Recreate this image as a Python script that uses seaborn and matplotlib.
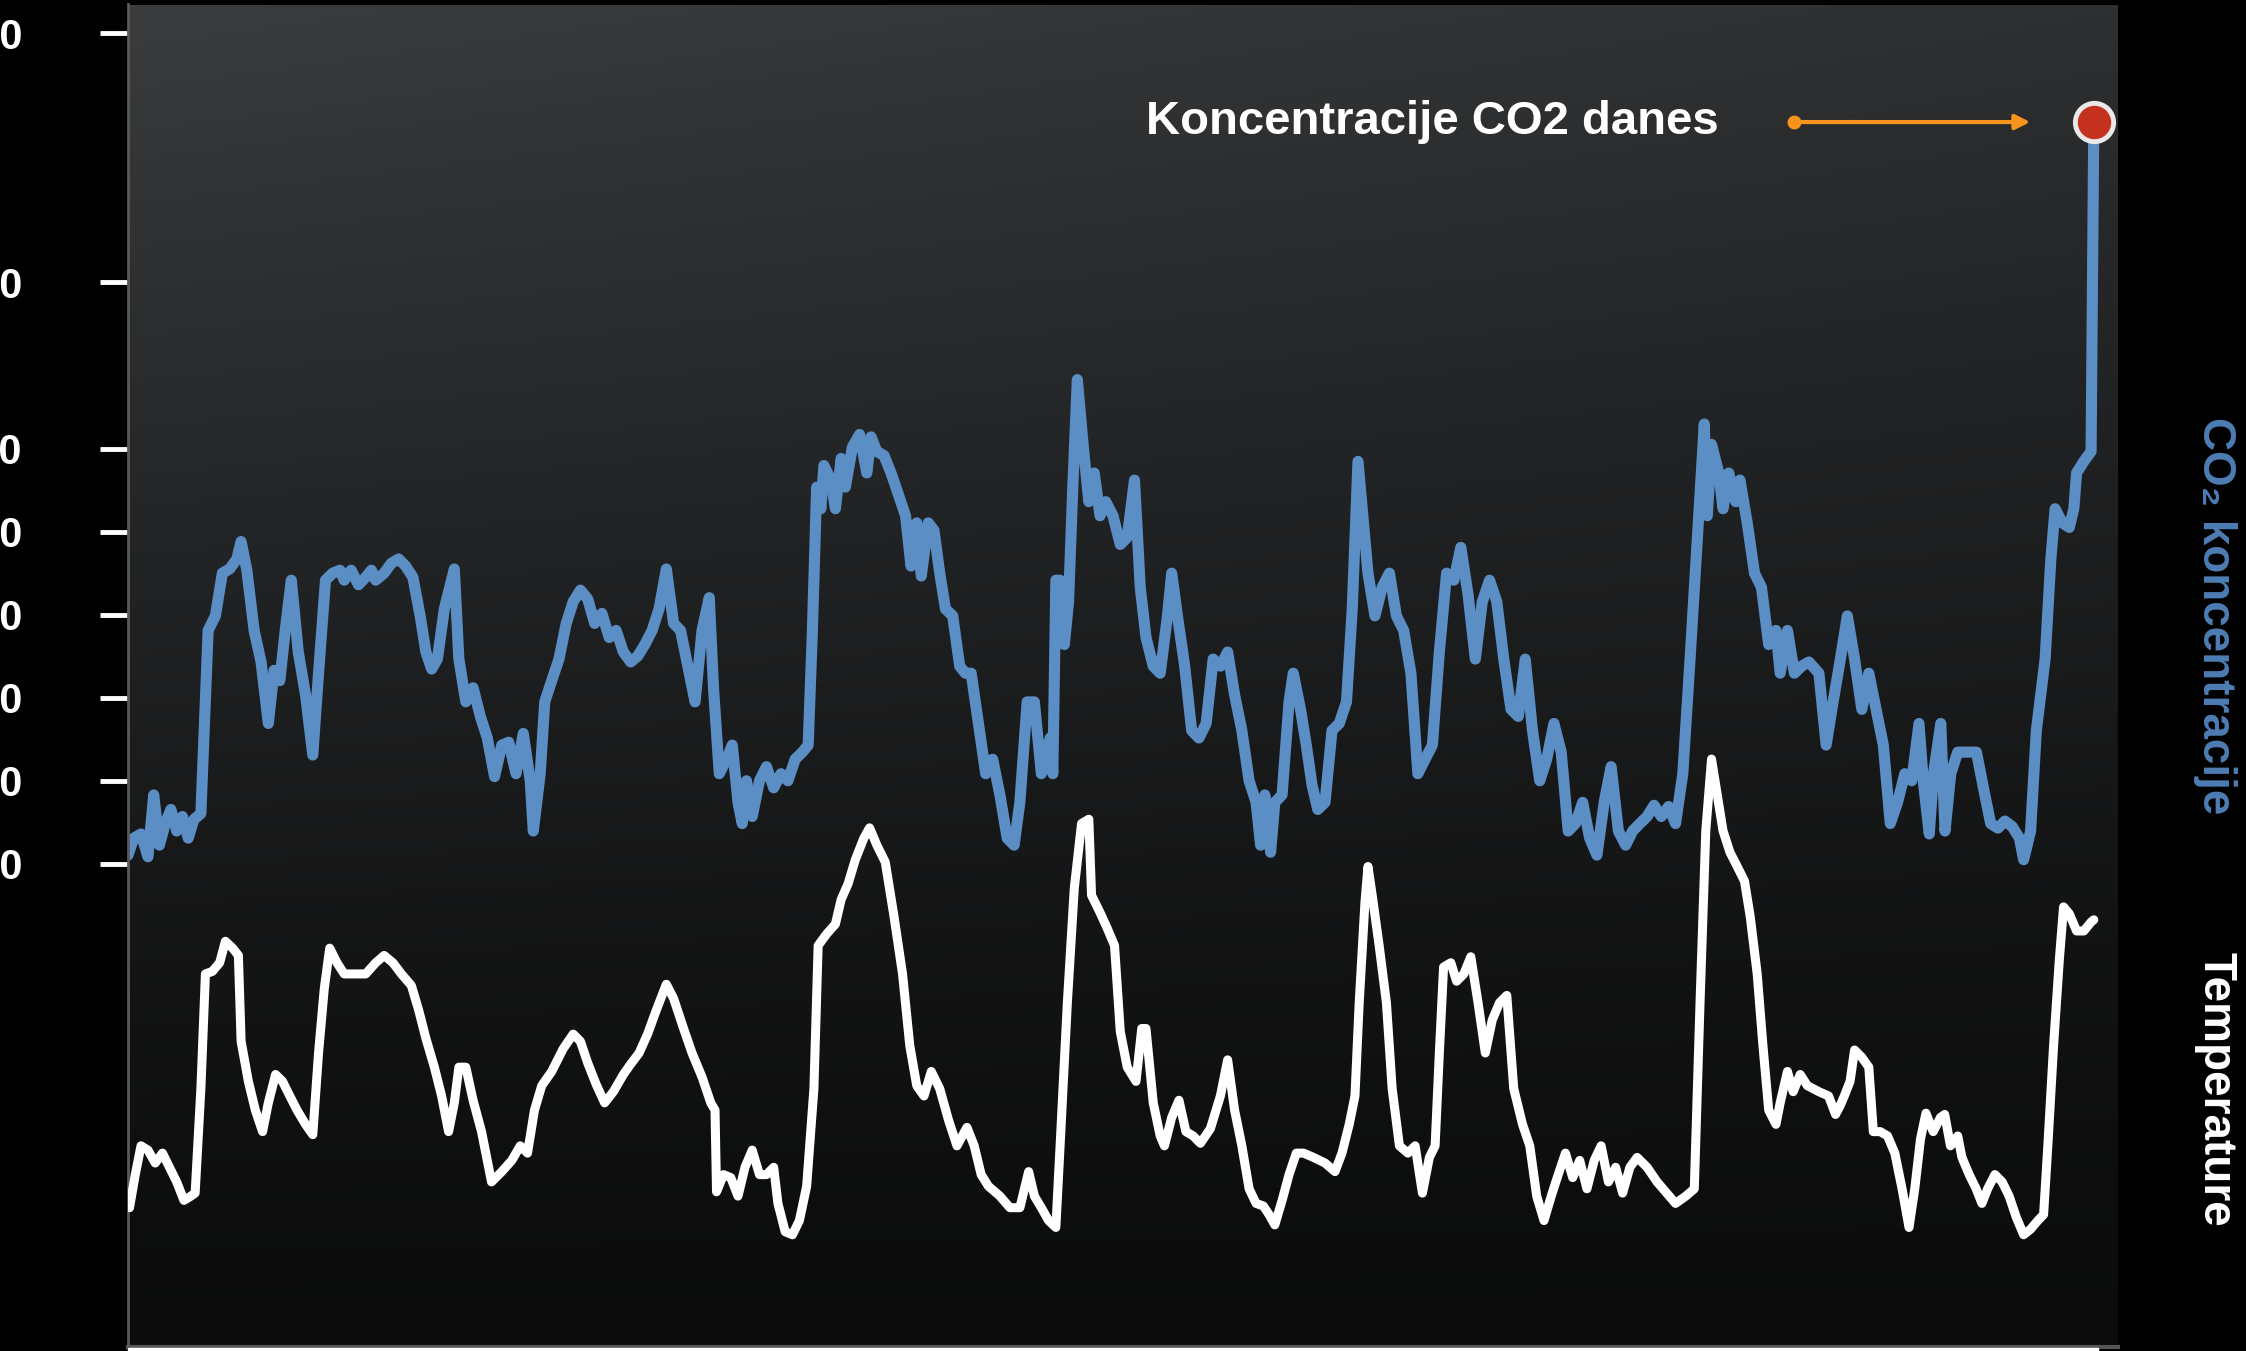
import numpy as np
import pandas as pd
import matplotlib.pyplot as plt
from matplotlib.patches import Rectangle
import seaborn as sns

# CO2 concentration (ppm) over the last 650 000 years (x in kyr, 0 = today)
co2_kyr = [-650.0, -648.1, -645.7, -643.4, -641.5, -639.6, -637.7, -635.8, -633.9, -632.0,
           -630.1, -628.2, -625.9, -623.5, -621.1, -618.8, -616.4, -614.0, -612.6, -610.7,
           -608.3, -606.0, -603.6, -601.7, -599.8, -597.9, -596.0, -593.7, -591.3, -588.9,
           -587.0, -584.7, -582.3, -579.9, -578.5, -576.2, -573.8, -571.4, -569.5, -568.1,
           -565.3, -562.9, -560.5, -558.2, -555.8, -553.4, -551.5, -549.6, -547.7, -545.4,
           -542.1, -540.6, -538.3, -535.9, -533.5, -531.2, -528.8, -526.4, -524.1, -521.7,
           -519.3, -517.0, -516.0, -513.7, -512.2, -509.9, -507.5, -505.1, -502.8, -500.4,
           -498.0, -495.7, -493.3, -490.9, -488.6, -486.2, -483.8, -481.5, -479.1, -476.7,
           -474.4, -472.0, -469.6, -467.3, -464.9, -462.5, -460.2, -457.8, -456.4, -454.5,
           -452.1, -450.2, -448.3, -446.9, -445.5, -443.6, -441.2, -438.9, -436.5, -434.1,
           -431.8, -429.4, -427.0, -425.1, -423.7, -422.3, -420.9, -419.9, -417.6, -416.1,
           -414.2, -412.8, -410.5, -408.1, -405.7, -404.3, -402.4, -400.0, -397.7, -395.3,
           -392.9, -391.1, -389.2, -387.7, -385.4, -383.5, -381.6, -379.7, -377.3, -375.0,
           -373.1, -371.2, -368.8, -366.4, -364.1, -361.7, -359.3, -357.0, -355.1, -352.7,
           -350.3, -348.0, -345.1, -344.2, -343.2, -341.8, -340.4, -339.0, -337.6, -336.1,
           -334.2, -332.3, -330.5, -328.6, -326.7, -324.3, -321.9, -319.6, -317.2, -315.3,
           -313.4, -311.0, -308.7, -306.3, -304.9, -303.0, -300.6, -298.3, -295.9, -293.5,
           -291.2, -288.8, -286.4, -284.1, -281.7, -279.3, -277.0, -275.5, -274.1, -272.2,
           -270.8, -268.4, -266.1, -264.7, -262.3, -260.4, -258.5, -256.6, -254.2, -251.9,
           -249.5, -247.1, -245.2, -243.3, -241.5, -240.0, -237.7, -235.3, -232.9, -230.6,
           -228.2, -225.8, -223.5, -221.1, -218.7, -216.4, -214.0, -211.6, -209.3, -206.9,
           -204.5, -202.2, -199.8, -197.4, -195.1, -192.7, -190.3, -188.0, -185.6, -183.2,
           -180.9, -178.5, -176.1, -173.8, -171.4, -169.0, -166.7, -164.3, -161.9, -159.6,
           -157.2, -154.8, -152.5, -150.1, -147.7, -145.4, -143.0, -140.6, -138.3, -135.9,
           -133.5, -131.2, -128.8, -127.8, -126.4, -124.0, -122.6, -120.7, -118.4, -117.0,
           -114.6, -112.2, -109.9, -107.5, -105.1, -103.7, -101.3, -99.0, -96.6, -94.2,
           -90.9, -88.5, -86.2, -83.8, -81.5, -79.1, -76.7, -74.4, -72.0, -69.6,
           -67.3, -64.9, -62.5, -60.2, -57.8, -56.4, -54.4, -53.0, -50.6, -49.2,
           -47.3, -45.0, -42.6, -38.8, -36.5, -34.1, -31.7, -29.4, -27.0, -24.6,
           -23.2, -20.9, -19.0, -16.1, -14.2, -12.8, -10.4, -8.1, -6.6, -5.7,
           -3.3, -0.9, 0.0]
co2_ppm = [182.1, 186.2, 187.2, 181.7, 196.6, 184.5, 189.7, 193.1, 187.9, 191.4,
           186.2, 190.7, 192.1, 236.2, 239.7, 250.0, 251.0, 253.4, 257.6, 250.7,
           236.2, 228.6, 213.8, 226.6, 224.1, 236.9, 248.3, 231.0, 220.7, 206.2,
           225.9, 248.3, 250.0, 250.7, 248.3, 250.7, 247.2, 249.0, 250.7, 248.3,
           250.0, 252.4, 253.4, 251.7, 249.0, 239.7, 231.0, 226.9, 229.3, 241.4,
           251.0, 229.3, 219.0, 222.4, 215.5, 210.3, 201.0, 208.6, 209.3, 201.7,
           211.4, 200.0, 187.9, 201.7, 219.0, 224.1, 229.3, 237.9, 243.1, 245.9,
           243.8, 237.9, 240.3, 234.5, 236.2, 231.0, 228.6, 230.0, 232.8, 236.2,
           241.4, 251.0, 237.9, 236.2, 227.6, 219.0, 236.2, 244.1, 222.4, 201.7,
           205.2, 208.6, 194.8, 189.7, 200.0, 191.4, 200.0, 203.4, 198.3, 201.7,
           200.0, 205.2, 206.9, 208.6, 236.2, 270.7, 265.5, 275.9, 272.4, 265.5,
           277.6, 270.7, 280.3, 283.4, 274.1, 282.8, 279.3, 278.3, 274.1, 269.0,
           263.8, 251.7, 262.1, 249.3, 262.1, 260.3, 250.0, 241.4, 239.7, 227.6,
           225.9, 225.9, 213.8, 201.7, 205.2, 196.6, 186.2, 184.5, 194.8, 219.0,
           219.0, 201.7, 210.3, 201.7, 248.3, 248.3, 232.8, 243.1, 270.7, 296.6,
           281.0, 267.2, 274.1, 263.8, 267.2, 263.8, 256.9, 258.6, 272.4, 246.6,
           234.5, 227.6, 225.9, 239.7, 250.0, 239.7, 227.6, 212.1, 210.3, 213.8,
           229.3, 227.6, 231.0, 220.7, 212.1, 200.0, 194.8, 184.5, 196.6, 182.8,
           194.8, 196.6, 219.0, 225.9, 217.2, 208.6, 199.0, 193.1, 194.8, 212.1,
           213.8, 219.0, 241.4, 276.9, 262.1, 250.0, 239.7, 246.6, 250.0, 239.7,
           236.2, 225.9, 201.7, 205.2, 208.6, 231.0, 250.0, 248.3, 256.2, 244.8,
           229.3, 243.1, 248.3, 243.1, 229.3, 217.2, 215.5, 229.3, 212.1, 200.0,
           205.2, 213.8, 206.9, 187.9, 189.7, 194.8, 186.2, 182.1, 194.8, 203.4,
           187.9, 184.5, 187.9, 189.7, 191.4, 194.1, 191.4, 193.8, 189.7, 201.7,
           229.3, 256.9, 285.9, 263.8, 281.0, 274.1, 265.5, 274.1, 267.2, 272.4,
           262.1, 250.0, 246.6, 232.8, 236.2, 225.9, 236.2, 225.9, 227.6, 228.6,
           225.9, 208.6, 219.0, 229.3, 239.7, 229.3, 217.2, 225.9, 217.2, 208.6,
           189.7, 194.8, 201.7, 200.0, 213.8, 200.0, 187.2, 201.7, 213.8, 187.9,
           201.7, 206.9, 206.9, 206.9, 198.3, 189.7, 188.6, 190.3, 189.0, 186.2,
           181.0, 187.9, 212.1, 229.3, 253.4, 265.5, 262.1, 261.0, 265.5, 274.1,
           276.9, 279.3, 358.6]

# temperature anomaly (deg C) on the same time axis
temp_kyr = [-649.5, -647.6, -645.7, -643.4, -641.0, -638.6, -636.3, -633.9, -631.5, -629.2,
            -627.8, -625.9, -624.4, -622.1, -619.7, -617.8, -615.4, -613.5, -612.6, -610.2,
            -607.9, -605.5, -603.6, -601.2, -598.9, -596.5, -594.1, -591.3, -588.9, -587.0,
            -585.1, -583.3, -580.9, -578.5, -574.7, -571.4, -568.1, -565.3, -562.4, -559.6,
            -556.3, -553.9, -551.5, -548.7, -546.3, -544.0, -542.1, -540.6, -538.3, -535.9,
            -533.1, -529.8, -526.4, -523.1, -520.3, -517.9, -515.6, -513.2, -509.9, -506.1,
            -502.8, -500.4, -498.0, -495.2, -492.4, -489.5, -486.2, -483.8, -481.0, -478.2,
            -475.3, -472.0, -469.6, -466.3, -463.5, -460.2, -457.3, -455.9, -455.4, -453.1,
            -450.7, -448.3, -446.0, -443.6, -441.2, -438.9, -436.5, -435.1, -432.7, -430.3,
            -428.0, -425.6, -423.2, -421.8, -419.0, -416.1, -414.2, -411.9, -409.5, -406.7,
            -404.8, -402.4, -399.6, -396.7, -393.9, -391.5, -389.2, -386.8, -384.4, -381.6,
            -378.7, -375.9, -372.6, -370.2, -367.9, -365.5, -361.7, -358.4, -355.1, -352.2,
            -350.3, -348.0, -345.6, -343.2, -341.8, -339.4, -337.1, -334.7, -332.3, -331.4,
            -328.6, -326.2, -323.8, -321.9, -319.6, -316.7, -314.8, -313.4, -311.0, -308.7,
            -307.3, -304.9, -302.5, -300.2, -297.8, -295.4, -292.1, -288.8, -286.4, -284.1,
            -281.7, -279.3, -277.0, -274.6, -272.7, -270.8, -268.4, -266.1, -263.7, -261.3,
            -258.0, -254.2, -250.9, -248.6, -246.2, -244.3, -242.9, -241.0, -240.0, -238.6,
            -236.3, -233.9, -232.0, -229.6, -226.8, -224.4, -222.0, -219.7, -217.8, -216.4,
            -215.0, -212.6, -210.7, -208.3, -206.0, -203.6, -201.2, -198.9, -196.5, -194.1,
            -191.8, -188.9, -186.5, -184.2, -181.8, -179.4, -177.1, -174.7, -172.3, -170.0,
            -167.6, -165.2, -162.9, -160.5, -158.1, -155.8, -153.4, -151.0, -147.7, -144.4,
            -141.6, -138.3, -134.9, -132.1, -130.2, -128.3, -126.4, -124.5, -122.6, -120.3,
            -117.9, -115.5, -113.6, -111.3, -109.4, -107.5, -105.1, -103.7, -101.3, -99.4,
            -97.1, -94.7, -90.9, -87.7, -85.4, -83.9, -82.5, -80.6, -79.1, -76.7,
            -74.4, -72.9, -70.6, -68.2, -65.8, -63.4, -61.1, -59.2, -57.3, -55.5,
            -53.1, -50.7, -49.3, -47.4, -45.0, -43.6, -41.2, -38.9, -37.0, -35.1,
            -32.7, -30.3, -28.0, -25.6, -23.2, -20.9, -18.5, -16.6, -15.2, -13.3,
            -11.4, -10.0, -8.1, -5.7, -3.3, -1.0, 0.0]
temp_anom = [-6.77, -6.00, -5.33, -5.43, -5.73, -5.50, -5.83, -6.17, -6.60, -6.50,
             -6.43, -4.00, -1.33, -1.27, -1.07, -0.57, -0.73, -0.90, -2.90, -3.83,
             -4.50, -5.00, -4.33, -3.67, -3.83, -4.17, -4.50, -4.83, -5.07, -3.17,
             -1.67, -0.73, -1.07, -1.33, -1.33, -1.33, -1.07, -0.90, -1.07, -1.33,
             -1.60, -2.17, -2.83, -3.50, -4.17, -5.00, -4.33, -3.50, -3.50, -4.27,
             -5.00, -6.17, -5.93, -5.67, -5.33, -5.50, -4.50, -3.93, -3.60, -3.07,
             -2.73, -2.90, -3.40, -3.90, -4.33, -4.07, -3.67, -3.43, -3.17, -2.73,
             -2.17, -1.57, -1.90, -2.60, -3.17, -3.73, -4.33, -4.50, -6.40, -6.00,
             -6.07, -6.50, -5.83, -5.43, -6.00, -6.00, -5.83, -6.67, -7.33, -7.40,
             -7.07, -6.27, -4.00, -0.67, -0.40, -0.17, 0.40, 0.77, 1.33, 1.83,
             2.07, 1.67, 1.27, 0.00, -1.33, -3.00, -3.93, -4.17, -3.60, -4.00,
             -4.73, -5.33, -4.90, -5.33, -6.00, -6.27, -6.50, -6.77, -6.77, -5.93,
             -6.50, -6.77, -7.07, -7.23, -5.33, -2.00, 0.67, 2.17, 2.27, 0.50,
             0.10, -0.27, -0.67, -2.67, -3.50, -3.83, -2.60, -2.60, -4.33, -5.10,
             -5.33, -4.67, -4.27, -5.00, -5.10, -5.27, -4.93, -4.17, -3.33, -4.50,
             -5.33, -6.33, -6.67, -6.73, -6.93, -7.17, -6.60, -6.00, -5.50, -5.50,
             -5.60, -5.73, -5.93, -5.50, -4.83, -4.17, -2.00, 0.33, 1.17, 0.50,
             -0.67, -2.00, -4.00, -5.33, -5.50, -5.33, -6.43, -5.60, -5.33, -3.17,
             -1.17, -1.07, -1.50, -1.33, -0.93, -2.00, -3.17, -2.40, -2.00, -1.83,
             -4.00, -4.83, -5.33, -6.50, -7.07, -6.50, -6.00, -5.50, -6.07, -5.67,
             -6.33, -5.67, -5.33, -6.17, -5.83, -6.43, -5.83, -5.60, -5.83, -6.17,
             -6.40, -6.67, -6.50, -6.33, -2.00, 2.00, 3.67, 2.83, 2.00, 1.50,
             1.17, 0.83, 0.00, -1.33, -3.00, -4.50, -4.83, -4.33, -3.60, -4.07,
             -3.67, -3.93, -4.07, -4.17, -4.60, -4.40, -4.17, -3.83, -3.10, -3.27,
             -3.50, -5.00, -5.00, -5.10, -5.50, -6.33, -7.23, -6.33, -5.17, -4.57,
             -5.00, -4.67, -4.60, -5.33, -5.10, -5.60, -6.00, -6.33, -6.67, -6.33,
             -6.00, -6.17, -6.50, -7.00, -7.40, -7.27, -7.07, -6.93, -5.33, -3.00,
             -1.00, 0.23, 0.07, -0.33, -0.33, -0.13, -0.07]

co2_ticks = [180, 200, 220, 240, 260, 280, 320, 380]
co2_tick_labels = ['180', '200', '220', '240', '260', '280', '320', '380']
time_ticks = [-550, -450, -350, -250, -150, -50]

co2 = pd.DataFrame({'kyr': co2_kyr, 'ppm': co2_ppm})
temp = pd.DataFrame({'kyr': temp_kyr, 'temp': temp_anom})
today_kyr, today_ppm = co2_kyr[-1], co2_ppm[-1]

sns.set_style('dark')
plt.rcParams['font.family'] = ['Liberation Sans', 'DejaVu Sans']
plt.rcParams['font.weight'] = 'bold'

W, H = 2246, 1351
fig = plt.figure(figsize=(W / 100, H / 100), dpi=100, facecolor='black')
rect = [128 / W, 4.5 / H, 1990 / W, 1342 / H]

# dark gradient backdrop
bg = fig.add_axes(rect, zorder=0)
u, v = np.meshgrid(np.linspace(0, 1, 300), np.linspace(0, 1, 300))
val = 0.045 + (0.19 - 0.05 * u) * (1 - v) ** 1.3
grad = np.dstack([val * 0.97, val * 1.0, val * 1.03])
bg.imshow(np.clip(grad, 0, 1), aspect='auto', extent=[0, 1, 0, 1], interpolation='bilinear')
bg.set_axis_off()

ax = fig.add_axes(rect, zorder=1)
ax.set_facecolor('none')
sns.lineplot(data=co2, x='kyr', y='ppm', ax=ax, color='#5b8ec4', lw=8,
             estimator=None, sort=False, solid_joinstyle='round', solid_capstyle='round')
ax.scatter([today_kyr], [today_ppm], s=760, color='#c4321f', edgecolor='#e9e9e9',
           linewidth=3.5, zorder=6)

ax.set_xlim(-650, 8)
ax.set_ylim(63.8, 386.9)
ax.set_yticks(co2_ticks)
ax.set_yticklabels(co2_tick_labels, fontweight='bold')
ax.set_xticks(time_ticks)
ax.set_xticklabels([])
ax.tick_params(axis='y', length=20, width=3.5, color='white', pad=56,
               labelsize=30, labelcolor='white', direction='out')
ax.tick_params(axis='x', length=5, width=2, color='#6a6a6a', direction='in')
ax.set_xlabel('')
ax.set_ylabel('')
ax.grid(False)
for side in ['top', 'right']:
    ax.spines[side].set_visible(False)
ax.spines['left'].set_color('#5a5a5a')
ax.spines['left'].set_linewidth(2)
ax.spines['bottom'].set_color('#555555')
ax.spines['bottom'].set_linewidth(3)

# annotation pointing at today's CO2 level
ax.annotate('', xy=(today_kyr - 21, today_ppm), xytext=(today_kyr - 99, today_ppm),
            arrowprops=dict(arrowstyle='-|>', color='#f7941d', lw=3, mutation_scale=22,
                            shrinkA=0, shrinkB=0), zorder=5)
ax.plot([today_kyr - 99], [today_ppm], marker='o', ms=9, color='#f7941d', zorder=5)
ax.text(today_kyr - 124, today_ppm, 'Koncentracije CO2 danes', color='white',
        fontsize=34, fontweight='bold', ha='right', va='center')

ax2 = ax.twinx()
sns.lineplot(data=temp, x='kyr', y='temp', ax=ax2, color='white', lw=6.5,
             estimator=None, sort=False, solid_joinstyle='round', solid_capstyle='round')
ax2.set_ylim(-10, 21.23)
ax2.set_xlim(-650, 8)
ax2.set_ylabel('')
ax2.set_yticks([])
ax2.grid(False)
for side in ax2.spines:
    ax2.spines[side].set_visible(False)

fig.text(2215 / W, 1 - 616 / H, 'CO\u2082 koncentracije', color='#4d7db4', fontsize=33,
         fontweight='bold', rotation=270, ha='center', va='center')
fig.text(2215 / W, 1 - 1089 / H, 'Temperature', color='white', fontsize=33,
         fontweight='bold', rotation=270, ha='center', va='center')

fig.add_artist(Rectangle((128 / W, 0), 1970 / W, 3 / H, transform=fig.transFigure,
                         color='white', zorder=10))

fig.savefig('out.png', dpi=100, facecolor='black')
